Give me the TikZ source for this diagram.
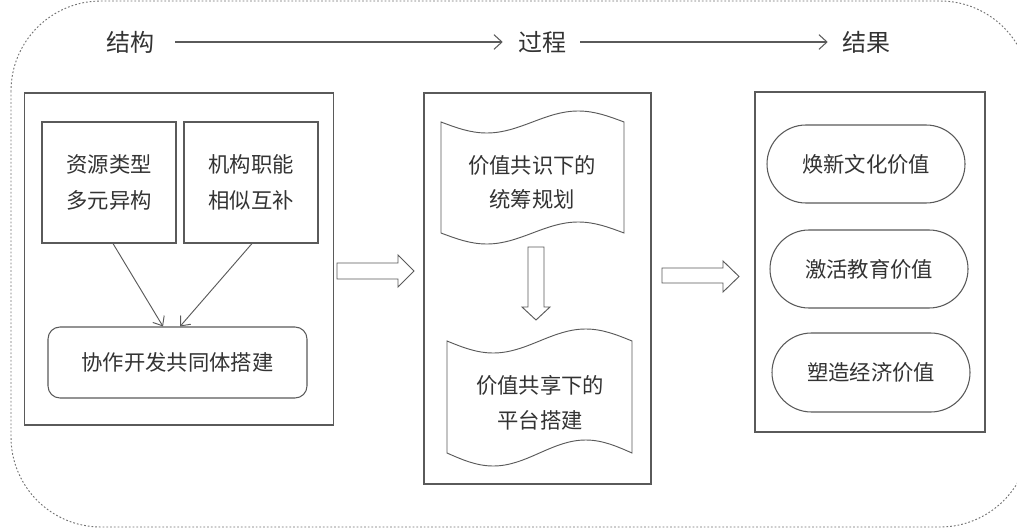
\documentclass[tikz,border=0pt]{standalone}
\usepackage{fontspec}
\setmainfont{Noto Sans CJK SC}
\usetikzlibrary{arrows.meta,shapes.misc}
\definecolor{ln}{HTML}{5A5A5A}
\definecolor{tx}{HTML}{333333}
\tikzset{
  px/.style={},
  panel/.style={draw=ln, line width=0.9pt, rectangle, inner sep=0pt},
  sqbox/.style={draw=ln, line width=0.8pt, rectangle, inner sep=0pt, align=center, text=tx,
    font=\fontsize{16pt}{27.5pt}\selectfont},
  rbox/.style={draw=ln, line width=0.8pt, rectangle, rounded corners=9pt, inner sep=0pt, text=tx,
    font=\fontsize{16pt}{27.5pt}\selectfont},
  stad/.style={draw=ln, line width=0.8pt, rounded rectangle, inner sep=0pt, text=tx,
    minimum width=198*0.75pt, minimum height=78*0.75pt, font=\fontsize{16pt}{27.5pt}\selectfont},
  ttl/.style={text=tx, font=\fontsize{18pt}{22pt}\selectfont, inner sep=0pt},
  doctext/.style={text=tx, align=center, font=\fontsize{16pt}{26pt}\selectfont, inner sep=0pt},
  docshape/.style={draw=ln, line width=0.7pt},
  blk/.style={draw=ln, line width=0.7pt, fill=white},
  flow/.style={draw=ln, line width=0.8pt, -{Straight Barb[length=6pt,width=11pt,line width=0.8pt]}},
  conn/.style={draw=ln, line width=0.7pt, -{Straight Barb[length=6pt,width=10pt,line width=0.7pt]}},
}
\begin{document}
\begin{tikzpicture}[x=0.75pt,y=-0.75pt]
\useasboundingbox (0,0) rectangle (1017,528);
\clip (0,0) rectangle (1017,528);
\fill[white] (0,0) rectangle (1017,528);
% outer dotted frame
\draw[draw=black!55, line width=0.7pt, dash pattern=on 1.3pt off 1.5pt, rounded corners=67.5pt]
  (11,1) rectangle (1030,527);

% titles
\node[ttl] (t1) at (130,42) {结构};
\node[ttl] (t2) at (542,42) {过程};
\node[ttl] (t3) at (866,42) {结果};
\draw[flow] ([xshift=21*0.75pt]t1.east) -- ([xshift=-15*0.75pt]t2.west);
\draw[flow] ([xshift=14*0.75pt]t2.east) -- ([xshift=-14*0.75pt]t3.west);

% left panel
\node[panel, minimum width=309*0.75pt, minimum height=332*0.75pt] (lp) at (179,259) {};
\node[sqbox, minimum width=134*0.75pt, minimum height=121*0.75pt] (b1) at (109,182.5) {资源类型\\多元异构};
\node[sqbox, minimum width=134*0.75pt, minimum height=121*0.75pt] (b2) at (251,182.5) {机构职能\\相似互补};
\node[rbox, minimum width=259*0.75pt, minimum height=71*0.75pt] (coop) at (177.5,362.5) {协作开发共同体搭建};
\draw[conn] ([xshift=4*0.75pt]b1.south) -- ([xshift=-14.5*0.75pt]coop.north);
\draw[conn] ([xshift=1*0.75pt]b2.south) -- ([xshift=2.5*0.75pt]coop.north);

% block arrow 1
\draw[blk] (337,263) -- (398,263) -- (398,255) -- (414,271) -- (398,287) -- (398,279) -- (337,279) -- cycle;

% middle panel
\node[panel, minimum width=227*0.75pt, minimum height=391*0.75pt] (mp) at (537.5,288.5) {};
\draw[docshape] (441,122) sin (486.75,133) cos (532.5,122) sin (578.25,111) cos (624,122)
  -- (624,233) sin (578.25,222) cos (532.5,233) sin (486.75,244) cos (441,233) -- cycle;
\node[doctext] (d1) at (532,182.5) {价值共识下的\\统筹规划};
\draw[blk] (528,247) -- (544,247) -- (544,307) -- (550,307) -- (536,320) -- (522,307) -- (528,307) -- cycle;
\draw[docshape] (447,341) sin (493.25,353) cos (539.5,341) sin (585.75,329) cos (632,341)
  -- (632,453) sin (585.75,440) cos (539.5,453) sin (493.25,466) cos (447,453) -- cycle;
\node[doctext] (d2) at (540,402.5) {价值共享下的\\平台搭建};

% block arrow 2
\draw[blk] (662,268) -- (723,268) -- (723,261) -- (739,276.5) -- (723,292) -- (723,283) -- (662,283) -- cycle;

% right panel
\node[panel, minimum width=230*0.75pt, minimum height=340*0.75pt] (rp) at (870,262) {};
\node[stad] (s1) at (866,164) {焕新文化价值};
\node[stad] (s2) at (869,269) {激活教育价值};
\node[stad, minimum height=79*0.75pt] (s3) at (871,372.5) {塑造经济价值};
\end{tikzpicture}
\end{document}
